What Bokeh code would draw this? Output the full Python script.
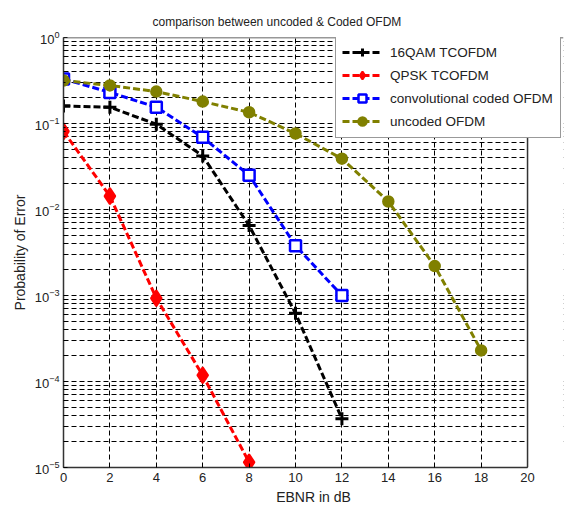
from bokeh.plotting import figure
from bokeh.models import (FixedTicker, LogTickFormatter, Legend, LegendItem, Title,
                          BoxAnnotation, Span)
from bokeh.embed import file_html
from bokeh.resources import INLINE

# ---- data ----
x_qam16 = [0, 2, 4, 6, 8, 10, 12]
qam16 = [0.16, 0.155, 0.098, 0.042, 0.0065, 6.2e-4, 3.7e-5]

x_qpsk = [0, 2, 4, 6, 8]
qpsk = [0.081, 0.0143, 9.3e-4, 1.18e-4, 1.15e-5]

x_conv = [0, 2, 4, 6, 8, 10, 12]
conv = [0.33, 0.23, 0.155, 0.069, 0.025, 0.0038, 0.001]

x_unc = [0, 2, 4, 6, 8, 10, 12, 14, 16, 18]
uncoded = [0.316, 0.277, 0.235, 0.18, 0.135, 0.0765, 0.039, 0.0124, 0.0022, 2.3e-4]

x_ticks = [0, 2, 4, 6, 8, 10, 12, 14, 16, 18, 20]
y_major = [1e-5, 1e-4, 1e-3, 1e-2, 1e-1, 1e0]
y_minor = [k * 10.0 ** e for e in range(-5, 0) for k in range(2, 10)]

labels = ["16QAM TCOFDM", "QPSK TCOFDM", "convolutional coded OFDM", "uncoded OFDM"]
title_text = "comparison between uncoded & Coded OFDM"

FONT = "Liberation Sans"
OLIVE = "#808000"
X_MAX = 20
X_EXT = 21.55   # frame extends past the axes box so the legend can overhang it

p = figure(width=568, height=509, output_backend="svg", toolbar_location=None,
           x_range=(0, X_EXT), y_range=(1e-5, 1), y_axis_type="log",
           min_border_left=63, min_border_right=5, min_border_top=37,
           min_border_bottom=42)
p.add_layout(Title(text=title_text, align="left", offset=89, text_font=FONT,
                   text_font_size="12px", text_font_style="normal",
                   text_color="#222222", standoff=18), "above")

p.outline_line_color = None

p.xaxis.ticker = FixedTicker(ticks=x_ticks)
p.xaxis.bounds = (0, X_MAX)
p.yaxis.ticker = FixedTicker(ticks=y_major, minor_ticks=y_minor)
p.yaxis.formatter = LogTickFormatter()

for ax in (p.xaxis[0], p.yaxis[0]):
    ax.axis_line_color = "#333333"
    ax.axis_line_width = 1.5
    ax.major_tick_in = 4
    ax.major_tick_out = 0
    ax.minor_tick_in = 2
    ax.minor_tick_out = 0
    ax.major_label_text_font = FONT
    ax.major_label_text_font_size = "13px"
    ax.major_label_text_color = "#222222"
    ax.axis_label_text_font = FONT
    ax.axis_label_text_font_size = "14px"
    ax.axis_label_text_font_style = "normal"
    ax.axis_label_text_color = "#222222"

p.xaxis.axis_label = "EBNR in dB"
p.yaxis.axis_label = "Probability of Error"
p.xaxis.major_label_standoff = 5
p.xaxis.axis_label_standoff = 4
p.yaxis.major_label_standoff = 4
p.yaxis.axis_label_standoff = 4

p.xgrid.ticker = FixedTicker(ticks=x_ticks)
p.xgrid.grid_line_color = "black"
p.xgrid.grid_line_dash = "5 3"
p.xgrid.grid_line_width = 1
p.ygrid.grid_line_color = "black"
p.ygrid.grid_line_dash = "5 3"
p.ygrid.minor_grid_line_color = "black"
p.ygrid.minor_grid_line_dash = "5 3"

DASH = "7 3"
LW = 3

r1l = p.line(x_qam16, qam16, line_color="black", line_width=LW, line_dash=DASH)
r1m = p.scatter(x_qam16, qam16, marker="cross", size=13, line_color="black", line_width=3)

r2l = p.line(x_qpsk, qpsk, line_color="red", line_width=LW, line_dash=DASH)
r2m = p.scatter(x_qpsk, qpsk, marker="diamond", size=16, line_color="red",
                fill_color="red", line_width=2)

r3l = p.line(x_conv, conv, line_color="blue", line_width=LW, line_dash=DASH)
r3m = p.scatter(x_conv, conv, marker="square", size=11, line_color="blue",
                fill_color="white", line_width=2.5)

r4l = p.line(x_unc, uncoded, line_color=OLIVE, line_width=LW, line_dash=DASH)
r4m = p.scatter(x_unc, uncoded, marker="circle", size=10, line_color=OLIVE,
                fill_color=OLIVE, line_width=2.5)

# blank the area right of the axes box, then draw the box's right and top edges
p.add_layout(BoxAnnotation(left=X_MAX, fill_color="white", fill_alpha=1,
                           line_color=None))
p.add_layout(Span(location=X_MAX, dimension="height", line_color="#333333",
                  line_width=1.5))
p.add_layout(Span(location=1, dimension="width", line_color="#333333",
                  line_width=1.5))

legend = Legend(items=[
    LegendItem(label=labels[0], renderers=[r1l, r1m]),
    LegendItem(label=labels[1], renderers=[r2l, r2m]),
    LegendItem(label=labels[2], renderers=[r3l, r3m]),
    LegendItem(label=labels[3], renderers=[r4l, r4m]),
], location=(272, 329))
legend.margin = 0
legend.padding = 6
legend.spacing = 3
legend.label_height = 20
legend.glyph_height = 20
legend.glyph_width = 40
legend.label_standoff = 8
legend.label_width = 164
legend.label_text_font = FONT
legend.label_text_font_size = "13.5px"
legend.label_text_color = "#222222"
legend.border_line_color = "#333333"
legend.border_line_width = 1
legend.background_fill_alpha = 1
p.add_layout(legend, "center")

open("out.html", "w").write(file_html(p, INLINE))
